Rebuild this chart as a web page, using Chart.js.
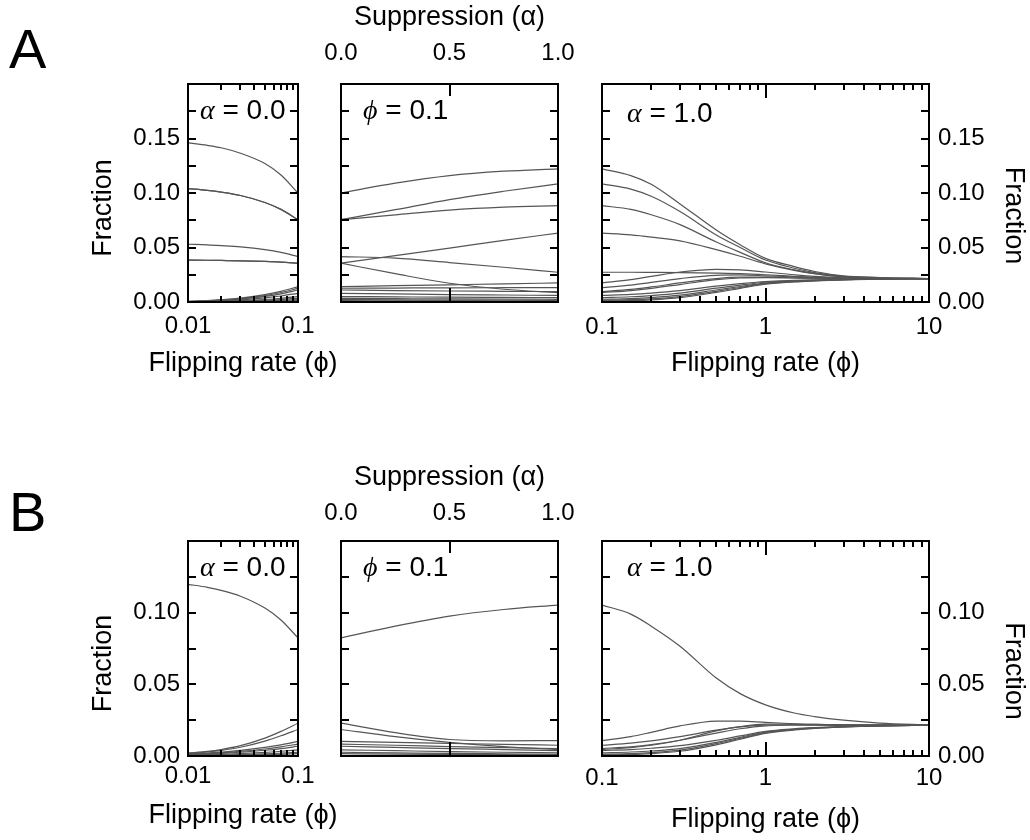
<!DOCTYPE html>
<html>
<head>
<meta charset="utf-8">
<script src="https://cdn.jsdelivr.net/npm/chart.js@4.4.1/dist/chart.umd.min.js"></script>
<style>
  body { margin: 0; background: #fff; width: 1030px; height: 840px; position: relative; overflow: hidden;
         font-family: 'Liberation Sans', Arial, sans-serif; color: #000; }
  canvas { position: absolute; }
  .tag { position: absolute; font-size: 56px; line-height: 1; }
  .note { position: absolute; font-size: 28px; line-height: 1; background: #fff; padding: 0 3px; white-space: nowrap; }
  .note i { font-family: 'Liberation Serif', 'DejaVu Serif', serif; }
  .xt { position: absolute; width: 300px; text-align: center; font-size: 27px; line-height: 1; white-space: nowrap; }
</style>
</head>
<body>
<div class="tag" style="left:9px;top:21px">A</div>
<div class="tag" style="left:9px;top:484px">B</div>

<canvas id="aLow" width="288" height="330" style="left:60px;top:60px"></canvas>
<canvas id="aMid" width="317" height="310" style="left:291px;top:0px"></canvas>
<canvas id="aHigh" width="480" height="330" style="left:550px;top:60px"></canvas>
<canvas id="bLow" width="288" height="323" style="left:60px;top:517px"></canvas>
<canvas id="bMid" width="317" height="310" style="left:291px;top:457px"></canvas>
<canvas id="bHigh" width="480" height="323" style="left:550px;top:517px"></canvas>

<div class="xt" style="left:93px;top:349px">Flipping rate (ϕ)</div>
<div class="xt" style="left:93px;top:801px">Flipping rate (ϕ)</div>

<div class="note" style="left:197px;top:96px"><i>α</i> = 0.0</div>
<div class="note" style="left:360px;top:96px"><i>ϕ</i> = 0.1</div>
<div class="note" style="left:624px;top:99px"><i>α</i> = 1.0</div>
<div class="note" style="left:197px;top:553px"><i>α</i> = 0.0</div>
<div class="note" style="left:360px;top:553px"><i>ϕ</i> = 0.1</div>
<div class="note" style="left:624px;top:553px"><i>α</i> = 1.0</div>

<script>
// x grids
const phiLow = [0.01, 0.015, 0.02, 0.03, 0.05, 0.07, 0.1];
const alphaGrid = [0, 0.25, 0.5, 0.75, 1];
const phiHigh = [0.1, 0.15, 0.2, 0.3, 0.5, 0.7, 1, 1.5, 2, 3, 5, 10];

// tick labels
const yTicksA = [0, 0.05, 0.10, 0.15];
const yTicksB = [0, 0.05, 0.10];
const xTicksLow = [0.01, 0.1];
const xTicksMid = [0, 0.5, 1];
const xTicksHigh = [0.1, 1, 10];

// tick marks
const yMarksA = [0.025, 0.05, 0.075, 0.1, 0.125, 0.15, 0.175];
const yMarksB = [0.025, 0.05, 0.075, 0.1, 0.125];
const lowMinor = [0.02, 0.03, 0.04, 0.05, 0.06, 0.07, 0.08, 0.09];
const highMinor = [0.2, 0.3, 0.4, 0.5, 0.6, 0.7, 0.8, 0.9, 2, 3, 4, 5, 6, 7, 8, 9];

// panel A, alpha = 0, phi 0.01..0.1
const fracALow = [
  [0.146, 0.1437, 0.1415, 0.1365, 0.127, 0.1165, 0.100],
  [0.104, 0.1024, 0.1008, 0.0977, 0.0913, 0.085, 0.0755],
  [0.104, 0.1024, 0.1008, 0.0977, 0.0913, 0.085, 0.0755],
  [0.053, 0.0524, 0.0517, 0.0505, 0.048, 0.0455, 0.0417],
  [0.0385, 0.0383, 0.0381, 0.0378, 0.0372, 0.0366, 0.0356],
  [0.0385, 0.0383, 0.0381, 0.0378, 0.0372, 0.0366, 0.0356],
  [0.0005, 0.0013, 0.0021, 0.0036, 0.0067, 0.0098, 0.0141],
  [0.0004, 0.0011, 0.0018, 0.0031, 0.0059, 0.0087, 0.0126],
  [0.0003, 0.0009, 0.0015, 0.0027, 0.0051, 0.0075, 0.011],
  [0.0002, 0.0006, 0.001, 0.0019, 0.0037, 0.0055, 0.008],
  [0.0001, 0.0004, 0.0006, 0.0012, 0.0023, 0.0034, 0.005],
  [0.0001, 0.0003, 0.0004, 0.0008, 0.0016, 0.0023, 0.0034],
  [0.0001, 0.0002, 0.0003, 0.0005, 0.001, 0.0015, 0.0022],
  [0.0001, 0.0001, 0.0002, 0.0003, 0.0006, 0.0008, 0.0012]
];

// panel A, phi = 0.1, alpha 0..1
const fracAMid = [
  [0.100, 0.109, 0.116, 0.120, 0.1222],
  [0.0755, 0.0847, 0.094, 0.1016, 0.1084],
  [0.0755, 0.080, 0.0843, 0.087, 0.0884],
  [0.0417, 0.0402, 0.0362, 0.0319, 0.0273],
  [0.0356, 0.0426, 0.0494, 0.0565, 0.0632],
  [0.0356, 0.026, 0.0172, 0.0117, 0.0086],
  [0.0141, 0.015, 0.0158, 0.0166, 0.0175],
  [0.0126, 0.0128, 0.013, 0.0131, 0.0132],
  [0.011, 0.0105, 0.0101, 0.0098, 0.0095],
  [0.008, 0.0074, 0.0068, 0.0064, 0.006],
  [0.005, 0.0047, 0.0044, 0.0042, 0.004],
  [0.0034, 0.0031, 0.0028, 0.0026, 0.0025],
  [0.0022, 0.002, 0.0018, 0.0016, 0.0015],
  [0.0012, 0.0011, 0.001, 0.0009, 0.0008]
];

// panel A, alpha = 1, phi 0.1..10
const fracAHigh = [
  [0.1222, 0.116, 0.108, 0.090, 0.066, 0.0525, 0.040, 0.0325, 0.028, 0.024, 0.0225, 0.0215],
  [0.1084, 0.1035, 0.097, 0.083, 0.0615, 0.050, 0.0385, 0.031, 0.027, 0.0235, 0.0222, 0.0215],
  [0.0884, 0.085, 0.080, 0.071, 0.055, 0.0455, 0.036, 0.0295, 0.026, 0.023, 0.022, 0.0215],
  [0.0273, 0.0273, 0.0272, 0.027, 0.0265, 0.026, 0.025, 0.0235, 0.0225, 0.0218, 0.0215, 0.0215],
  [0.0632, 0.0615, 0.0595, 0.056, 0.048, 0.042, 0.035, 0.029, 0.026, 0.023, 0.022, 0.0215],
  [0.0086, 0.0105, 0.0125, 0.016, 0.0205, 0.022, 0.0223, 0.022, 0.0218, 0.0216, 0.0215, 0.0215],
  [0.0175, 0.0205, 0.0235, 0.0275, 0.030, 0.0295, 0.0275, 0.025, 0.0235, 0.0222, 0.0216, 0.0215],
  [0.0132, 0.0155, 0.018, 0.0215, 0.0245, 0.0248, 0.024, 0.023, 0.0223, 0.0217, 0.0215, 0.0215],
  [0.0095, 0.0115, 0.0138, 0.0175, 0.0215, 0.0228, 0.0228, 0.0222, 0.0219, 0.0216, 0.0215, 0.0215],
  [0.006, 0.007, 0.0082, 0.0105, 0.0145, 0.0168, 0.0188, 0.0198, 0.0203, 0.0207, 0.0211, 0.0215],
  [0.004, 0.0048, 0.0059, 0.0082, 0.0127, 0.0155, 0.0181, 0.0194, 0.020, 0.0206, 0.0211, 0.0215],
  [0.0025, 0.0032, 0.0041, 0.0063, 0.011, 0.0142, 0.0174, 0.019, 0.0197, 0.0205, 0.0211, 0.0215],
  [0.0015, 0.0021, 0.0029, 0.005, 0.0098, 0.0133, 0.0168, 0.0187, 0.0195, 0.0204, 0.0211, 0.0215],
  [0.0008, 0.0013, 0.002, 0.004, 0.0088, 0.0125, 0.0163, 0.0184, 0.0193, 0.0203, 0.021, 0.0215]
];

// panel B, alpha = 0
const fracBLow = [
  [0.1198, 0.1177, 0.1156, 0.1115, 0.1032, 0.0949, 0.0824],
  [0.002, 0.0032, 0.0045, 0.0072, 0.0125, 0.0172, 0.0229],
  [0.0018, 0.0028, 0.0039, 0.0061, 0.0104, 0.0141, 0.0185],
  [0.0015, 0.002, 0.0027, 0.0039, 0.006, 0.0078, 0.0102],
  [0.0012, 0.0017, 0.0022, 0.0032, 0.0049, 0.0064, 0.0083],
  [0.001, 0.0014, 0.0018, 0.0026, 0.004, 0.0052, 0.0068],
  [0.0007, 0.0009, 0.0012, 0.0017, 0.0025, 0.0033, 0.0043],
  [0.0004, 0.0006, 0.0007, 0.001, 0.0015, 0.002, 0.0026],
  [0.0002, 0.0003, 0.0004, 0.0006, 0.0009, 0.0012, 0.0016]
];

// panel B, phi = 0.1
const fracBMid = [
  [0.0824, 0.0906, 0.0976, 0.1022, 0.1053],
  [0.0229, 0.0163, 0.0115, 0.0106, 0.0107],
  [0.0185, 0.0135, 0.0095, 0.0065, 0.0045],
  [0.0102, 0.0095, 0.0088, 0.0081, 0.0075],
  [0.0083, 0.0075, 0.0066, 0.0058, 0.0052],
  [0.0068, 0.006, 0.0052, 0.0045, 0.0038],
  [0.0043, 0.0037, 0.0031, 0.0026, 0.0022],
  [0.0026, 0.0022, 0.0018, 0.0015, 0.0012],
  [0.0016, 0.0013, 0.0011, 0.0009, 0.0007]
];

// panel B, alpha = 1
const fracBHigh = [
  [0.1053, 0.099, 0.0906, 0.0766, 0.0544, 0.0435, 0.0357, 0.030, 0.0275, 0.025, 0.023, 0.0217],
  [0.0107, 0.0135, 0.0165, 0.021, 0.0243, 0.0244, 0.0235, 0.0225, 0.022, 0.0217, 0.0216, 0.0215],
  [0.0045, 0.0058, 0.0075, 0.011, 0.0175, 0.0205, 0.0222, 0.0222, 0.022, 0.0217, 0.0216, 0.0215],
  [0.0075, 0.009, 0.0105, 0.0135, 0.018, 0.0203, 0.0215, 0.0218, 0.0217, 0.0216, 0.0215, 0.0215],
  [0.0052, 0.0064, 0.0079, 0.011, 0.016, 0.019, 0.021, 0.0215, 0.0216, 0.0215, 0.0215, 0.0215],
  [0.0038, 0.0045, 0.0054, 0.0072, 0.011, 0.014, 0.0172, 0.019, 0.0198, 0.0205, 0.021, 0.0215],
  [0.0022, 0.0028, 0.0035, 0.0052, 0.0095, 0.013, 0.0167, 0.0187, 0.0196, 0.0204, 0.021, 0.0215],
  [0.0012, 0.0017, 0.0024, 0.0041, 0.0086, 0.0123, 0.0162, 0.0184, 0.0194, 0.0203, 0.021, 0.0215],
  [0.0007, 0.0011, 0.0017, 0.0033, 0.0078, 0.0117, 0.0158, 0.0182, 0.0193, 0.0203, 0.021, 0.0215]
];

Chart.defaults.font.family = "'Liberation Sans', Arial, sans-serif";
Chart.defaults.color = '#000';

function series(xs, rows) {
  return rows.map(ys => ({
    data: xs.map((x, i) => ({ x, y: ys[i] })),
    borderColor: '#555',
    borderWidth: 1.2,
    pointRadius: 0,
    fill: false,
    tension: 0.4,
    cubicInterpolationMode: 'monotone'
  }));
}

// inward ticks on all four sides plus the frame
function frameTicks(xMarks, yMarks) {
  return {
    id: 'frameTicks',
    afterDatasetsDraw(chart) {
      const { ctx, chartArea: a } = chart;
      const x = chart.scales.x, y = chart.scales.y;
      ctx.save();
      ctx.strokeStyle = '#000';
      ctx.lineWidth = 2;
      ctx.beginPath();
      xMarks.forEach(([vals, len]) => vals.forEach(v => {
        const px = Math.round(x.getPixelForValue(v));
        ctx.moveTo(px, a.bottom); ctx.lineTo(px, a.bottom - len);
        ctx.moveTo(px, a.top); ctx.lineTo(px, a.top + len);
      }));
      yMarks.forEach(([vals, len]) => vals.forEach(v => {
        const py = Math.round(y.getPixelForValue(v));
        ctx.moveTo(a.left, py); ctx.lineTo(a.left + len, py);
        ctx.moveTo(a.right, py); ctx.lineTo(a.right - len, py);
      }));
      ctx.stroke();
      ctx.strokeRect(a.left, a.top, a.right - a.left, a.bottom - a.top);
      ctx.restore();
    }
  };
}

function panel(id, o) {
  new Chart(document.getElementById(id), {
    type: 'line',
    data: { datasets: series(o.xs, o.rows) },
    options: {
      responsive: false,
      animation: false,
      devicePixelRatio: 1,
      layout: { padding: o.pad },
      plugins: { legend: { display: false }, tooltip: { enabled: false } },
      scales: {
        x: {
          type: o.xType, min: o.xMin, max: o.xMax, position: o.xPos,
          grid: { display: false, drawTicks: false },
          border: { display: false },
          afterBuildTicks: s => { s.ticks = o.xTicks.map(v => ({ value: v })); },
          afterFit: s => { s.height = o.xSize; },
          ticks: { padding: o.xPad, autoSkip: false, maxRotation: 0, font: { size: 24 }, callback: o.xFmt },
          title: { display: !!o.xTitle, text: o.xTitle, font: { size: 27 },
                   padding: { top: o.xTitlePad, bottom: o.xTitlePad } }
        },
        y: {
          type: 'linear', min: 0, max: o.yMax, position: o.yPos || 'left', display: o.yShow,
          grid: { display: false, drawTicks: false },
          border: { display: false },
          afterBuildTicks: s => { s.ticks = o.yTicks.map(v => ({ value: v })); },
          afterFit: s => { s.width = o.ySize; },
          ticks: { padding: o.yPad, autoSkip: false, font: { size: 24 }, callback: v => v.toFixed(2) },
          // spaces nudge the label down the axis, as in the original figure
          title: { display: true, text: o.yTitle, font: { size: 27 }, padding: { top: o.yTitlePad, bottom: 0 } }
        }
      }
    },
    plugins: [frameTicks(o.xMarks, o.yMarks)]
  });
}

const fmtLog = v => String(v);
const fmtMid = v => v.toFixed(1);
const fracLeft = 'Fraction    ';
const fracRight = '      Fraction';

// row A
panel('aLow', {
  xs: phiLow, rows: fracALow, xType: 'logarithmic', xMin: 0.01, xMax: 0.1, xPos: 'bottom',
  xTicks: xTicksLow, xFmt: fmtLog, xSize: 88, xPad: 10,
  yMax: 0.2, yTicks: yTicksA, yShow: true, ySize: 128, yPad: 8, yTitle: fracLeft, yTitlePad: 27,
  pad: { left: 0, top: 24, right: 50, bottom: 0 },
  xMarks: [[lowMinor, 6]], yMarks: [[yMarksA, 8]]
});
panel('aMid', {
  xs: alphaGrid, rows: fracAMid, xType: 'linear', xMin: 0, xMax: 1, xPos: 'top',
  xTicks: xTicksMid, xFmt: fmtMid, xSize: 84, xPad: 16, xTitle: 'Suppression (α)', xTitlePad: 1,
  yMax: 0.2, yTicks: yTicksA, yShow: false, ySize: 0, yPad: 0, yTitle: '', yTitlePad: 0,
  pad: { left: 50, top: 0, right: 50, bottom: 8 },
  xMarks: [[[0.5], 14]], yMarks: [[yMarksA, 8]]
});
panel('aHigh', {
  xs: phiHigh, rows: fracAHigh, xType: 'logarithmic', xMin: 0.1, xMax: 10, xPos: 'bottom',
  xTicks: xTicksHigh, xFmt: fmtLog, xSize: 88, xPad: 11, xTitle: 'Flipping rate (ϕ)', xTitlePad: 10,
  yMax: 0.2, yTicks: yTicksA, yShow: true, yPos: 'right', ySize: 101, yPad: 9, yTitle: fracRight, yTitlePad: 0,
  pad: { left: 52, top: 24, right: 0, bottom: 0 },
  xMarks: [[[1], 14], [highMinor, 6]], yMarks: [[yMarksA, 8]]
});

// row B
panel('bLow', {
  xs: phiLow, rows: fracBLow, xType: 'logarithmic', xMin: 0.01, xMax: 0.1, xPos: 'bottom',
  xTicks: xTicksLow, xFmt: fmtLog, xSize: 84, xPad: 6,
  yMax: 0.15, yTicks: yTicksB, yShow: true, ySize: 128, yPad: 8, yTitle: fracLeft, yTitlePad: 27,
  pad: { left: 0, top: 24, right: 50, bottom: 0 },
  xMarks: [[lowMinor, 6]], yMarks: [[yMarksB, 8]]
});
panel('bMid', {
  xs: alphaGrid, rows: fracBMid, xType: 'linear', xMin: 0, xMax: 1, xPos: 'top',
  xTicks: xTicksMid, xFmt: fmtMid, xSize: 84, xPad: 13, xTitle: 'Suppression (α)', xTitlePad: 4,
  yMax: 0.15, yTicks: yTicksB, yShow: false, ySize: 0, yPad: 0, yTitle: '', yTitlePad: 0,
  pad: { left: 50, top: 0, right: 50, bottom: 11 },
  xMarks: [[[0.5], 14]], yMarks: [[yMarksB, 8]]
});
panel('bHigh', {
  xs: phiHigh, rows: fracBHigh, xType: 'logarithmic', xMin: 0.1, xMax: 10, xPos: 'bottom',
  xTicks: xTicksHigh, xFmt: fmtLog, xSize: 84, xPad: 8, xTitle: 'Flipping rate (ϕ)', xTitlePad: 4,
  yMax: 0.15, yTicks: yTicksB, yShow: true, yPos: 'right', ySize: 101, yPad: 9, yTitle: fracRight, yTitlePad: 0,
  pad: { left: 52, top: 24, right: 0, bottom: 0 },
  xMarks: [[[1], 14], [highMinor, 6]], yMarks: [[yMarksB, 8]]
});
</script>
</body>
</html>
